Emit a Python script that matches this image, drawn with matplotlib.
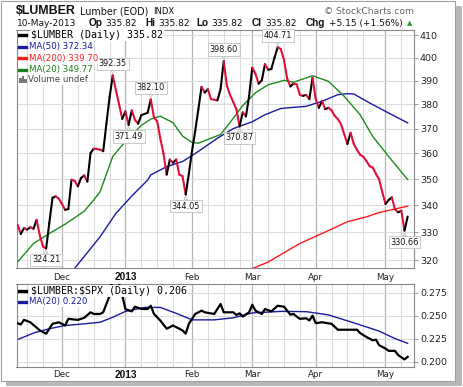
import matplotlib
matplotlib.use("Agg")
import matplotlib.pyplot as plt
import numpy as np
import pandas as pd
from matplotlib.collections import LineCollection
from matplotlib.patches import Rectangle
from matplotlib.ticker import FixedLocator, NullLocator, NullFormatter
import matplotlib.transforms as mtransforms

# ---------------- data ----------------
holidays = ["2012-11-22", "2012-12-25", "2013-01-01", "2013-01-21", "2013-02-18", "2013-03-29"]
price_start, price_end = "2012-11-12", "2013-05-10"
price_close = [
    332.8, 329.4, 331.6, 331.0, 331.9, 331.3, 334.6, 328.9, 324.9, 324.21,
    333.5, 342.8, 343.4, 342.5, 340.5, 338.3, 338.6, 349.7, 349.3, 347.2,
    350.4, 351.4, 349.0, 360.2, 361.9, 361.8, 361.5, 360.9, 372.0, 383.0,
    392.35, 386.0, 380.0, 374.0, 377.1, 371.49, 377.5, 373.6, 372.0, 375.5,
    376.0, 376.5, 382.10, 374.5, 373.0, 366.0, 360.0, 351.7, 357.6, 356.3,
    357.6, 351.7, 351.1, 344.05, 352.0, 361.0, 369.0, 378.0, 387.4, 385.0,
    386.4, 382.2, 382.0, 381.7, 386.4, 398.60, 387.8, 384.0, 381.0, 378.0,
    370.87, 376.7, 375.0, 383.5, 395.7, 393.0, 388.8, 390.2, 397.2, 394.8,
    395.1, 400.0, 404.71, 403.9, 399.0, 391.0, 387.6, 388.8, 388.5, 384.0,
    383.6, 384.0, 382.2, 391.3, 382.2, 378.6, 381.4, 378.0, 378.6, 377.5,
    375.2, 373.9, 371.7, 367.7, 363.8, 368.3, 363.8, 361.5, 359.5, 358.7,
    357.0, 355.0, 354.4, 352.0, 349.8, 345.0, 340.5, 342.0, 343.0, 338.5,
    337.4, 338.0, 330.66, 335.82,
]

ma50_dates = ["2012-12-07", "2012-12-19", "2012-12-27", "2013-01-04", "2013-01-11", "2013-01-14",
              "2013-01-22", "2013-01-29", "2013-02-05", "2013-02-13", "2013-02-21", "2013-03-01",
              "2013-03-07", "2013-03-14", "2013-03-26", "2013-04-03", "2013-04-10", "2013-04-15",
              "2013-04-17", "2013-04-24", "2013-05-02", "2013-05-10"]
ma50_vals = [317.2, 328.4, 337.0, 343.5, 349.6, 351.6, 354.8, 356.8, 360.8, 366.1, 370.0, 372.8,
             375.7, 378.3, 379.2, 381.3, 384.1, 384.5, 384.4, 380.6, 376.4, 372.34]

ma20_dates = ["2012-11-12", "2012-11-19", "2012-11-27", "2012-12-04", "2012-12-12", "2012-12-17",
              "2012-12-19", "2012-12-26", "2013-01-02", "2013-01-09", "2013-01-14", "2013-01-17",
              "2013-01-24", "2013-01-29", "2013-02-01", "2013-02-05", "2013-02-11", "2013-02-14",
              "2013-02-20", "2013-02-26", "2013-03-04", "2013-03-08", "2013-03-15", "2013-03-20",
              "2013-03-28", "2013-04-05", "2013-04-12", "2013-04-19", "2013-04-25", "2013-05-02",
              "2013-05-10"]
ma20_vals = [319.4, 326.0, 329.6, 333.0, 337.8, 342.0, 345.1, 358.8, 364.8, 371.3, 373.9, 375.1,
             372.4, 367.0, 364.4, 364.1, 366.1, 367.6, 372.5, 379.5, 384.9, 388.3, 390.2, 389.4,
             392.2, 389.8, 383.4, 375.7, 366.8, 358.8, 349.77]

ma200_dates = ["2013-03-01", "2013-03-08", "2013-03-22", "2013-04-03", "2013-04-15", "2013-04-23",
               "2013-04-29", "2013-05-10"]
ma200_vals = [317.1, 319.4, 326.0, 329.6, 333.9, 335.7, 337.3, 339.70]

ratio_dates = ["2012-11-12", "2012-11-13", "2012-11-14", "2012-11-16", "2012-11-21", "2012-11-26",
               "2012-11-28", "2012-11-30", "2012-12-04", "2012-12-05", "2012-12-10", "2012-12-12",
               "2012-12-14", "2012-12-17", "2012-12-19", "2012-12-20", "2012-12-21", "2012-12-24",
               "2012-12-26", "2012-12-27", "2012-12-28", "2012-12-31", "2013-01-02", "2013-01-04",
               "2013-01-07", "2013-01-09", "2013-01-11", "2013-01-14", "2013-01-15", "2013-01-17",
               "2013-01-22", "2013-01-24", "2013-01-25", "2013-01-29", "2013-01-30", "2013-01-31",
               "2013-02-04", "2013-02-06", "2013-02-07", "2013-02-12", "2013-02-14", "2013-02-15",
               "2013-02-21", "2013-02-22", "2013-02-25", "2013-02-26", "2013-02-28", "2013-03-01",
               "2013-03-04", "2013-03-06", "2013-03-07", "2013-03-11", "2013-03-13", "2013-03-15",
               "2013-03-18", "2013-03-19", "2013-03-20", "2013-03-21", "2013-03-22", "2013-03-26",
               "2013-03-27", "2013-03-28", "2013-04-01", "2013-04-03", "2013-04-08", "2013-04-10",
               "2013-04-11", "2013-04-18", "2013-04-19", "2013-04-23", "2013-04-25", "2013-04-26",
               "2013-04-29", "2013-05-01", "2013-05-02", "2013-05-06", "2013-05-07", "2013-05-09",
               "2013-05-10"]
ratio_vals = [0.2418, 0.2404, 0.2454, 0.2428, 0.2340, 0.2304, 0.2411, 0.2428, 0.2393, 0.2465,
              0.2454, 0.2476, 0.2536, 0.2518, 0.2518, 0.2536, 0.2626, 0.2715, 0.2920, 0.2910,
              0.2850, 0.2720, 0.2570, 0.2546, 0.2597, 0.2572, 0.2572, 0.2607, 0.2518, 0.2447,
              0.2358, 0.2393, 0.2375, 0.2340, 0.2304, 0.2411, 0.2518, 0.2554, 0.2536, 0.2518,
              0.2626, 0.2536, 0.2536, 0.2508, 0.2525, 0.2490, 0.2536, 0.2618, 0.2554, 0.2518,
              0.2572, 0.2546, 0.2607, 0.2597, 0.2554, 0.2511, 0.2518, 0.2490, 0.2465, 0.2471,
              0.2447, 0.2500, 0.2418, 0.2428, 0.2411, 0.2347, 0.2347, 0.2347, 0.2311, 0.2268,
              0.2232, 0.2240, 0.2179, 0.2143, 0.2118, 0.2118, 0.2072, 0.2025, 0.2053]

rma_dates = ["2012-11-12", "2012-11-19", "2012-11-27", "2012-12-04", "2012-12-12", "2012-12-19",
             "2012-12-26", "2013-01-02", "2013-01-10", "2013-01-17", "2013-01-25", "2013-02-01",
             "2013-02-12", "2013-02-21", "2013-03-01", "2013-03-14", "2013-03-26", "2013-04-05",
             "2013-04-17", "2013-04-29", "2013-05-06", "2013-05-10"]
rma_vals = [0.2240, 0.2311, 0.2358, 0.2393, 0.2411, 0.2428, 0.2482, 0.2546, 0.2589, 0.2589,
            0.2525, 0.2454, 0.2454, 0.2476, 0.2529, 0.2546, 0.2543, 0.2508, 0.2422, 0.2332,
            0.2251, 0.2200]

annotations = [("2012-11-26", "324.21", "below"), ("2012-12-26", "392.35", "above"),
               ("2013-01-03", "371.49", "below"), ("2013-01-14", "382.10", "above"),
               ("2013-01-30", "344.05", "below"), ("2013-02-15", "398.60", "above"),
               ("2013-02-25", "370.87", "below"), ("2013-03-13", "404.71", "above"),
               ("2013-05-09", "330.66", "below")]

month_labels = ["Dec", "2013", "Feb", "Mar", "Apr", "May"]
price_ticks = [320, 330, 340, 350, 360, 370, 380, 390, 400, 410]
ratio_ticks = [0.200, 0.225, 0.250, 0.275]

# ---------------- trading-day axis ----------------
cal = pd.bdate_range("2012-11-01", "2013-05-31")
cal = cal[~cal.isin(pd.to_datetime(holidays))]
pos = {d: i for i, d in enumerate(cal)}
def X(dates):
    return np.array([pos[pd.Timestamp(d)] for d in dates], dtype=float)

price_dates = cal[(cal >= price_start) & (cal <= price_end)]
px = X(price_dates)
py = np.array(price_close)

month_starts = []
for m in pd.period_range("2012-11", "2013-05", freq="M"):
    first = cal[(cal.year == m.year) & (cal.month == m.month)][0]
    month_starts.append(pos[first])
dec_idx = pos[pd.Timestamp("2012-12-03")]
x0, x1 = dec_idx - 14.35, dec_idx + 110.9

minor_grid = []
for k, ms in enumerate(month_starts):
    nxt = month_starts[k + 1] if k + 1 < len(month_starts) else ms + 30
    g = ms + 5
    while g < nxt - 2:
        minor_grid.append(g)
        g += 5

# ---------------- figure ----------------
W, H = 464, 387
fig = plt.figure(figsize=(W / 100, H / 100), dpi=100)
fig.patch.set_facecolor("white")

def fx(p):
    return p / W
def fy(p):
    return 1 - p / H

# frame with drop shadow
fig.patches.append(Rectangle((fx(455), fy(386)), fx(7), fy(6) - fy(386), transform=fig.transFigure,
                             fc="#b8b8b8", ec="none", zorder=-3))
fig.patches.append(Rectangle((fx(6), fy(386)), fx(456), fy(380) - fy(386), transform=fig.transFigure,
                             fc="#b8b8b8", ec="none", zorder=-3))
fig.patches.append(Rectangle((fx(1), fy(380.5)), fx(454), fy(1) - fy(380.5), transform=fig.transFigure,
                             fc="white", ec="#a0a0a0", lw=0.8, zorder=-2))

L, R = 16.5, 413.7
ax = fig.add_axes([fx(L), fy(268.3), fx(R - L), fy(29.5) - fy(268.3)])
ax2 = fig.add_axes([fx(L), fy(366.7), fx(R - L), fy(284) - fy(366.7)])

grid_c = "#dcdcdc"
month_c = "#b4b4b4"
for a, lab_y in ((ax, 277.0), (ax2, 374.5)):
    a.set_xlim(x0, x1)
    for g in minor_grid:
        a.axvline(g, color=grid_c, lw=0.8, zorder=0)
    for ms in month_starts:
        a.axvline(ms, color=month_c, lw=0.9, zorder=0)
    for s in a.spines.values():
        s.set_color("#888888")
        s.set_linewidth(0.8)
    a.yaxis.tick_right()
    a.tick_params(axis="y", which="major", direction="out", length=3, width=0.6, color="#888888",
                  labelsize=6.8, pad=1.5, labelcolor="#222222")
    a.set_xticks([])
    trans = mtransforms.blended_transform_factory(a.transData, fig.transFigure)
    for ms, lab in zip(month_starts[1:], month_labels):
        if lab == "2013":
            a.text(ms, fy(lab_y), lab, transform=trans, ha="center", va="center",
                   family="Liberation Sans", fontweight="bold", fontsize=7.3, color="#111111",
                   clip_on=False)
        else:
            a.text(ms, fy(lab_y), lab, transform=trans, ha="center", va="center",
                   family="DejaVu Sans", fontsize=6.3, color="#222222", clip_on=False)

# main panel
ax.set_yscale("log")
ax.set_ylim(317.2, 412.7)
ax.yaxis.set_major_locator(FixedLocator(price_ticks))
ax.yaxis.set_minor_locator(NullLocator())
ax.yaxis.set_minor_formatter(NullFormatter())
ax.set_yticklabels([str(t) for t in price_ticks])
for t in price_ticks:
    ax.axhline(t, color=grid_c, lw=0.8, zorder=0)

ax.plot(X(ma200_dates), ma200_vals, color="#ff1a1a", lw=1.0, zorder=2)
ax.plot(X(ma50_dates), ma50_vals, color="#1a1aa0", lw=1.0, zorder=2)
ax.plot(X(ma20_dates), ma20_vals, color="#1e8a1e", lw=1.0, zorder=2)

segs = [[(px[i], py[i]), (px[i + 1], py[i + 1])] for i in range(len(px) - 1)]
cols = ["black" if py[i + 1] >= py[i] else "#e0103c" for i in range(len(px) - 1)]
ax.add_collection(LineCollection(segs, colors=cols, linewidths=1.5, zorder=3, capstyle="round"))

for d, txt, where in annotations:
    xv = pos[pd.Timestamp(d)]
    yv = float(txt)
    off = 8.3 if where == "above" else -8.3
    ax.annotate(txt, xy=(xv, yv), xytext=(0, off), textcoords="offset points",
                ha="center", va="center", fontsize=5.9, color="#111111", zorder=6,
                annotation_clip=False,
                bbox=dict(boxstyle="square,pad=0.22", fc="white", ec="#c0c0c0", lw=0.6),
                arrowprops=dict(arrowstyle="wedge,tail_width=0.45,shrink_factor=0.5", fc="white",
                                ec="#c0c0c0", lw=0.6, shrinkA=0, shrinkB=1.5))

# main legend
leg_items = [("$LUMBER (Daily) 335.82", "black", "mono"),
             ("MA(50) 372.34", "#1a1aa0", "sans"),
             ("MA(200) 339.70", "#ff1a1a", "sans"),
             ("MA(20) 349.77", "#1e7a1e", "sans")]
ys = [35.2, 46.8, 58.3, 69.9]
wbox = dict(fc="white", ec="none", pad=0.6)
for (txt, c, kind), yy in zip(leg_items, ys):
    fig.lines.append(plt.Line2D([fx(19.5), fx(26.5)], [fy(yy), fy(yy)], color=c, lw=2.4,
                                transform=fig.transFigure, zorder=6))
    if kind == "mono":
        fig.text(fx(31), fy(yy), txt, family="DejaVu Sans Mono", fontsize=7.2, color="black",
                 va="center", ha="left", bbox=wbox, zorder=5)
    else:
        fig.text(fx(29), fy(yy), txt, family="DejaVu Sans", fontsize=6.2, color=c,
                 va="center", ha="left", bbox=wbox, zorder=5)
for bx, bh in [(20.5, 5), (23, 7), (25.5, 4)]:
    fig.patches.append(Rectangle((fx(bx - 1.2), fy(83)), fx(2.2), fy(83 - bh) - fy(83),
                                 transform=fig.transFigure, fc="#777777", ec="none", zorder=6))
fig.text(fx(28.5), fy(79.5), "Volume undef", family="DejaVu Sans", fontsize=6.2, color="#444444",
         va="center", ha="left", bbox=wbox, zorder=5)

# ratio panel
ax2.set_ylim(0.1946, 0.2843)
ax2.yaxis.set_major_locator(FixedLocator(ratio_ticks))
ax2.set_yticklabels(["%.3f" % t for t in ratio_ticks])
for t in ratio_ticks:
    ax2.axhline(t, color=grid_c, lw=0.8, zorder=0)
ax2.plot(X(rma_dates), rma_vals, color="#1a1aa0", lw=1.0, zorder=2)
ax2.plot(X(ratio_dates), ratio_vals, color="black", lw=1.6, zorder=3)
fig.lines.append(plt.Line2D([fx(19.5), fx(26.5)], [fy(290.7), fy(290.7)], color="black", lw=2.4,
                            transform=fig.transFigure, zorder=6))
fig.text(fx(31), fy(290.7), "\\$LUMBER:\\$SPX (Daily) 0.206", family="DejaVu Sans Mono", fontsize=7.2,
         color="black", va="center", ha="left", bbox=wbox, zorder=5)
fig.lines.append(plt.Line2D([fx(19.5), fx(26.5)], [fy(301.8), fy(301.8)], color="#1a1aa0", lw=2.4,
                            transform=fig.transFigure, zorder=6))
fig.text(fx(29), fy(301.8), "MA(20) 0.220", family="DejaVu Sans", fontsize=6.2, color="#1a1aa0",
         va="center", ha="left", bbox=wbox, zorder=5)

# header
fig.text(fx(16), fy(11), "$LUMBER", family="Liberation Sans", fontweight="bold", fontsize=8.9,
         va="center", ha="left", color="#111111")
fig.text(fx(80), fy(11.5), "Lumber (EOD)", family="DejaVu Sans", fontsize=6.9, va="center", ha="left",
         color="#111111")
fig.text(fx(153), fy(11.5), "INDX", family="DejaVu Sans", fontsize=6.0, va="center", ha="left",
         color="#111111")
fig.text(fx(413.7), fy(11), "\u00a9 StockCharts.com", family="DejaVu Sans", fontsize=6.6,
         va="center", ha="right", color="#666666")
pieces = [(16.7, "10-May-2013", False), (88.3, "Op", True), (105, "335.82", False),
          (145, "Hi", True), (158.3, "335.82", False), (196.7, "Lo", True), (211.7, "335.82", False),
          (252, "Cl", True), (265.3, "335.82", False), (305.3, "Chg", True),
          (328.7, "+5.15 (+1.56%)", False)]
for xx, t, b in pieces:
    fig.text(fx(xx), fy(23.5), t, family="Liberation Sans" if b else "DejaVu Sans",
             fontweight="bold" if b else "normal", fontsize=7.2 if b else 6.5,
             va="center", ha="left", color="#111111")
fig.text(fx(409.5), fy(23.5), "\u25b2", family="DejaVu Sans", fontsize=5, color="#2a9a2a",
         va="center", ha="center")

fig.savefig("out.png", dpi=100, facecolor="white")
